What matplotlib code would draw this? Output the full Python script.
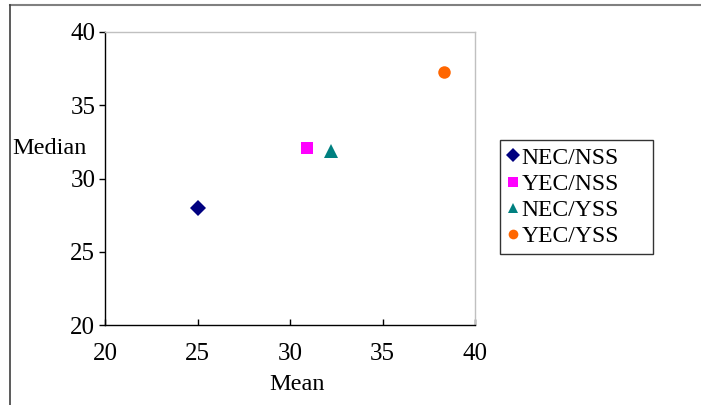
import matplotlib.pyplot as plt
from matplotlib.lines import Line2D

# Data
labels = ["NEC/NSS", "YEC/NSS", "NEC/YSS", "YEC/YSS"]
mean_vals = [25.0, 30.9, 32.2, 38.3]
median_vals = [28.0, 32.1, 31.9, 37.3]
markers = ["D", "s", "^", "o"]
colors = ["#000080", "#ff00ff", "#008080", "#ff6600"]
sizes = [8, 9, 10, 9]

plt.rcParams["font.family"] = ["Liberation Serif", "DejaVu Serif"]

fig = plt.figure(figsize=(7.01, 4.05), dpi=100)
ax = fig.add_axes([105 / 701, 80 / 405, 370 / 701, 293 / 405])

for x, y, m, c, s, lab in zip(mean_vals, median_vals, markers, colors, sizes, labels):
    ax.plot(x, y, marker=m, color=c, markersize=s, linestyle="none", label=lab,
            markeredgewidth=0)

ax.set_xlim(20, 40)
ax.set_ylim(20, 40)
ax.set_xticks([20, 25, 30, 35, 40])
ax.set_yticks([20, 25, 30, 35, 40])
ax.tick_params(axis="x", direction="in", length=4, width=1, labelsize=18, pad=13)
ax.tick_params(axis="y", direction="out", length=4, width=1, labelsize=18, pad=3)

for side in ["left", "bottom"]:
    ax.spines[side].set_color("black")
    ax.spines[side].set_linewidth(1)
for side in ["top", "right"]:
    ax.spines[side].set_color("#c0c0c0")
    ax.spines[side].set_linewidth(1)

fig.text(12 / 701, 1 - 148 / 405, "Median", fontsize=17.5, va="center", ha="left")
fig.text(297 / 701, 1 - 384 / 405, "Mean", fontsize=17.5, va="center", ha="center")

# legend box spans x 500-653, y 140-252 in the reference
handles = [Line2D([], [], marker=m, color=c, linestyle="none", markersize=7, markeredgewidth=0)
           for m, c in zip(markers, colors)]
leg = fig.legend(handles, labels, loc="upper left",
                 bbox_to_anchor=(500 / 701, 1 - 252 / 405, 153 / 701, 112 / 405),
                 mode="expand", fontsize=17, frameon=True, fancybox=False, edgecolor="black",
                 handlelength=0.5, handletextpad=0.1, labelspacing=0.2,
                 borderpad=0.3, borderaxespad=0)
leg.get_frame().set_linewidth(1)

# outer chart border (top and left visible)
fig.add_artist(Line2D([10 / 701, 1], [1 - 5 / 405, 1 - 5 / 405], color="#808080", linewidth=1.5))
fig.add_artist(Line2D([10 / 701, 10 / 701], [0, 1 - 5 / 405], color="#404040", linewidth=1.2))

fig.savefig("out.png", dpi=100)
